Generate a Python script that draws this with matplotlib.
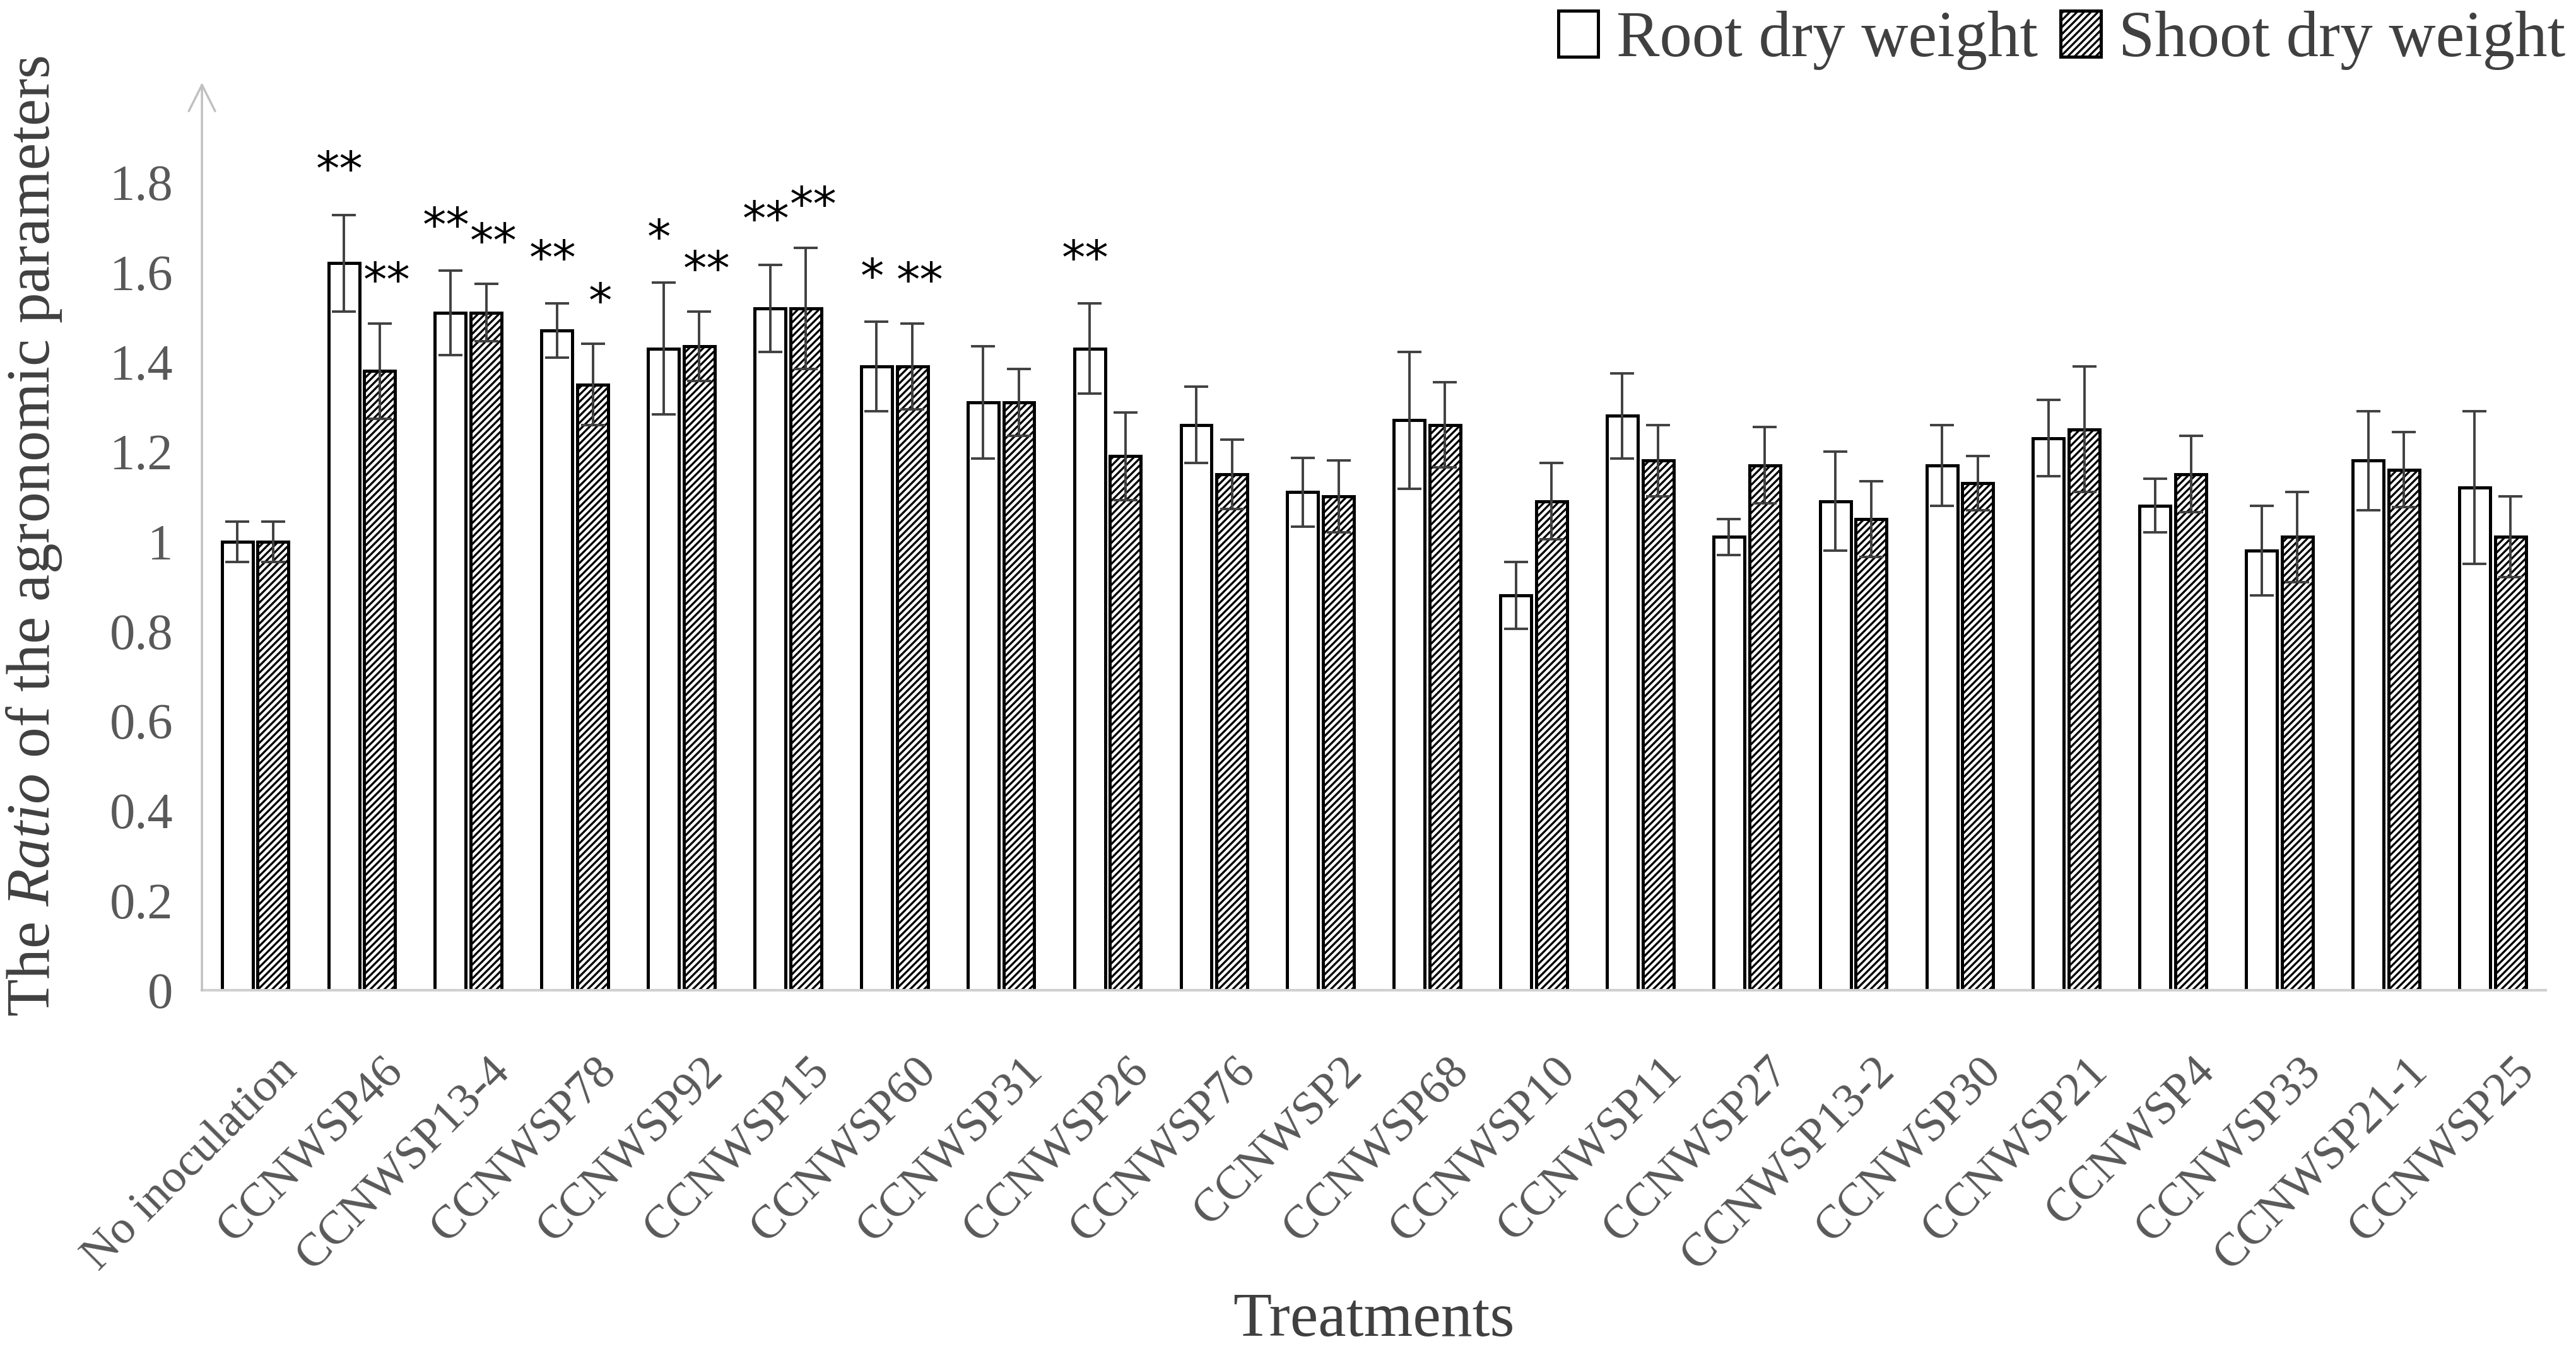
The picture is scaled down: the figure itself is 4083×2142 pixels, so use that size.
import matplotlib
matplotlib.use("Agg")
import matplotlib.pyplot as plt
import matplotlib.transforms as mtransforms
import numpy as np
from matplotlib.patches import Patch

categories = ["No inoculation", "CCNWSP46", "CCNWSP13-4", "CCNWSP78", "CCNWSP92",
              "CCNWSP15", "CCNWSP60", "CCNWSP31", "CCNWSP26", "CCNWSP76", "CCNWSP2",
              "CCNWSP68", "CCNWSP10", "CCNWSP11", "CCNWSP27", "CCNWSP13-2", "CCNWSP30",
              "CCNWSP21", "CCNWSP4", "CCNWSP33", "CCNWSP21-1", "CCNWSP25"]

root = [1.00, 1.62, 1.51, 1.47, 1.43, 1.52, 1.39, 1.31, 1.43, 1.26, 1.11,
        1.27, 0.88, 1.28, 1.01, 1.09, 1.17, 1.23, 1.08, 0.98, 1.18, 1.12]
root_err = [0.045, 0.108, 0.094, 0.06, 0.147, 0.097, 0.10, 0.125, 0.10, 0.085, 0.077,
            0.152, 0.075, 0.095, 0.04, 0.11, 0.09, 0.085, 0.06, 0.10, 0.11, 0.17]

shoot = [1.00, 1.38, 1.51, 1.35, 1.435, 1.52, 1.39, 1.31, 1.19, 1.15, 1.10,
         1.26, 1.09, 1.18, 1.17, 1.05, 1.13, 1.25, 1.15, 1.01, 1.16, 1.01]
shoot_err = [0.045, 0.106, 0.064, 0.09, 0.077, 0.135, 0.096, 0.075, 0.098, 0.077, 0.08,
             0.095, 0.085, 0.08, 0.085, 0.085, 0.06, 0.14, 0.085, 0.10, 0.084, 0.09]

root_sig = ["", "**", "**", "**", "*", "**", "*", "", "**", "", "",
            "", "", "", "", "", "", "", "", "", "", ""]
shoot_sig = ["", "**", "**", "*", "**", "**", "**", "", "", "", "",
             "", "", "", "", "", "", "", "", "", "", ""]

yticks = [0, 0.2, 0.4, 0.6, 0.8, 1.0, 1.2, 1.4, 1.6, 1.8]
ytick_labels = ["0", "0.2", "0.4", "0.6", "0.8", "1", "1.2", "1.4", "1.6", "1.8"]

serif = ["Liberation Serif", "DejaVu Serif"]
plt.rcParams["hatch.linewidth"] = 2.4
plt.rcParams["hatch.color"] = "black"
plt.rcParams["mathtext.fontset"] = "custom"
plt.rcParams["mathtext.it"] = "Liberation Serif:italic"
plt.rcParams["mathtext.rm"] = "Liberation Serif"

fig = plt.figure(figsize=(40.83, 21.42), dpi=100)
ax = fig.add_axes([0.0784, 0.267, 0.9099, 0.672])

x = np.arange(len(categories))
w = 0.29
off = 0.168
err_kw = dict(ecolor="#404040", elinewidth=2.8, capsize=14, capthick=2.8)

ax.bar(x - off, root, w, yerr=root_err, color="white", edgecolor="black",
       linewidth=3.6, error_kw=err_kw, label="Root dry weight", zorder=2)
ax.bar(x + off, shoot, w, yerr=shoot_err, color="white", edgecolor="black",
       linewidth=3.6, hatch="///", error_kw=err_kw, label="Shoot dry weight", zorder=2)

star_font = ["DejaVu Sans"]
for i in range(len(categories)):
    if root_sig[i]:
        ax.text(x[i] - off - 0.04, root[i] + root_err[i] + 0.095, root_sig[i],
                ha="center", va="center", fontsize=54, family=star_font, color="black")
    if shoot_sig[i]:
        ax.text(x[i] + off + 0.07, shoot[i] + shoot_err[i] + 0.09, shoot_sig[i],
                ha="center", va="center", fontsize=54, family=star_font, color="black")

ax.set_xlim(-0.5, len(categories) - 0.5)
ax.set_ylim(0, 2.023)
ax.set_yticks(yticks)
ax.set_yticklabels(ytick_labels, family=serif, fontsize=58, color="#595959")
ax.set_xticks(x)
ax.set_xticklabels(categories, rotation=45, ha="right", rotation_mode="anchor",
                   family=serif, fontsize=54, color="#595959")
ax.tick_params(axis="x", length=0, pad=30)
ax.tick_params(axis="y", length=0, pad=33)
shift = mtransforms.ScaledTranslation(0.32, -0.52, fig.dpi_scale_trans)
for lab in ax.get_xticklabels():
    lab.set_transform(lab.get_transform() + shift)

for s in ["top", "right", "left"]:
    ax.spines[s].set_visible(False)
ax.spines["bottom"].set_color("#d0d0d0")
ax.spines["bottom"].set_linewidth(3)

ax.annotate("", xy=(0, 1.0), xycoords="axes fraction", xytext=(0, 0),
            textcoords="axes fraction",
            arrowprops=dict(arrowstyle="->", color="#c0c0c0", lw=2.5,
                            mutation_scale=75, shrinkA=0, shrinkB=0))

ax.set_xlabel("Treatments", family=serif, fontsize=72, color="#404040")
ax.xaxis.set_label_coords(0.5, -0.333)
ax.set_ylabel("The $\\mathit{Ratio}$ of the agronomic parameters", family=serif,
              fontsize=70, color="#404040")
ax.yaxis.set_label_coords(-0.059, 0.5)

handles = [Patch(facecolor="white", edgecolor="black", linewidth=3.6),
           Patch(facecolor="white", edgecolor="black", linewidth=3.6, hatch="///")]
fig.legend(handles, ["Root dry weight", "Shoot dry weight"], loc="upper right",
           bbox_to_anchor=(0.9985, 0.997), ncol=2, frameon=False, borderpad=0.1,
           borderaxespad=0, prop={"family": serif, "size": 74}, labelcolor="#404040",
           handlelength=0.62, handleheight=0.72, handletextpad=0.28, columnspacing=0.35)

fig.savefig("out.png", dpi=100, facecolor="white")
